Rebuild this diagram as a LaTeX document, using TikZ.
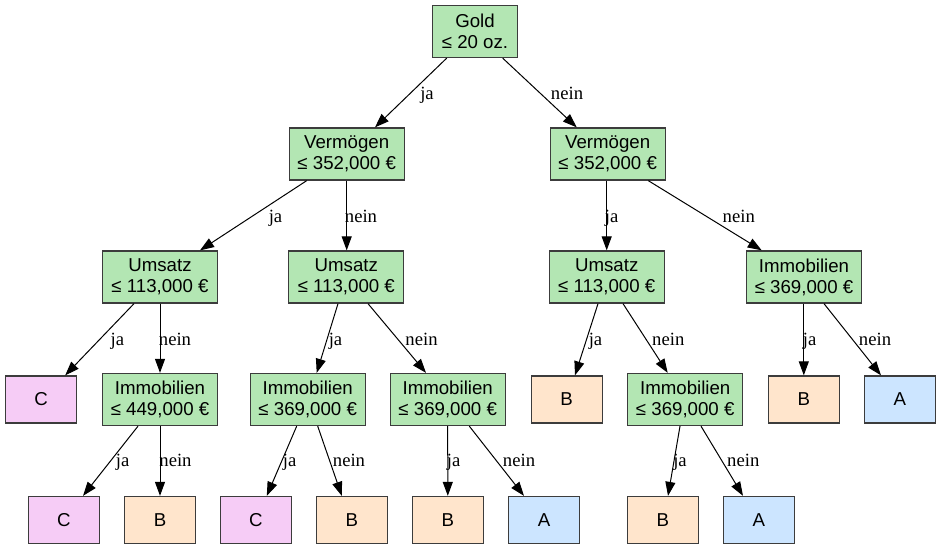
\documentclass[tikz,border=0pt]{standalone}
\usepackage{fontspec}
\setmainfont{Liberation Serif}
\newfontfamily\arialf{Liberation Sans}
\usetikzlibrary{arrows.meta}
\definecolor{nodegreen}{RGB}{179,230,179}
\definecolor{leafA}{RGB}{204,229,255}
\definecolor{leafB}{RGB}{255,229,204}
\definecolor{leafC}{RGB}{246,204,246}
\definecolor{bordergray}{RGB}{60,60,60}
\begin{document}
\begin{tikzpicture}[x=1pt,y=-1pt,
  splitbox/.style={draw=bordergray, line width=1.3pt, fill=nodegreen,
    minimum width=115pt, minimum height=52pt, inner sep=0pt, align=center,
    font=\arialf\fontsize{18.67}{21}\selectfont},
  goldbox/.style={splitbox, minimum width=85pt},
  leafbox/.style={draw=bordergray, line width=1.3pt, minimum width=71pt,
    minimum height=47pt, inner sep=0pt,
    font=\arialf\fontsize{18.67}{21}\selectfont},
  leafa/.style={leafbox, fill=leafA},
  leafb/.style={leafbox, fill=leafB},
  leafc/.style={leafbox, fill=leafC},
  conn/.style={-{Triangle[length=14pt,width=10pt]}, line width=1pt, black},
  lab/.style={anchor=base, inner sep=0pt, font=\fontsize{18.67}{21}\selectfont}
]
\useasboundingbox (0,0) rectangle (941,549);

% level 0
\node[goldbox] (gold) at (475,31.5) {Gold\\≤ 20 oz.};
% level 1
\node[splitbox] (vl) at (346.7,154) {Vermögen\\≤ 352,000 €};
\node[splitbox] (vr) at (607.7,154) {Vermögen\\≤ 352,000 €};
% level 2
\node[splitbox] (ul1) at (160,277) {Umsatz\\≤ 113,000 €};
\node[splitbox] (ul2) at (346.3,277) {Umsatz\\≤ 113,000 €};
\node[splitbox] (ur) at (606.7,277) {Umsatz\\≤ 113,000 €};
\node[splitbox] (ir) at (804,277) {Immobilien\\≤ 369,000 €};
% level 3
\node[leafc] (c3) at (41.2,399.5) {C};
\node[splitbox] (i449) at (160,399.5) {Immobilien\\≤ 449,000 €};
\node[splitbox] (i369a) at (307.7,399.5) {Immobilien\\≤ 369,000 €};
\node[splitbox] (i369b) at (447.7,399.5) {Immobilien\\≤ 369,000 €};
\node[leafb] (b3) at (566.7,399.5) {B};
\node[splitbox] (i369c) at (685.2,399.5) {Immobilien\\≤ 369,000 €};
\node[leafb] (b3r) at (803.8,399.5) {B};
\node[leafa] (a3) at (899.8,399.5) {A};
% level 4
\node[leafc] (c4a) at (63.8,520) {C};
\node[leafb] (b4a) at (160,520) {B};
\node[leafc] (c4b) at (255.8,520) {C};
\node[leafb] (b4b) at (351.8,520) {B};
\node[leafb] (b4c) at (447.8,520) {B};
\node[leafa] (a4a) at (544,520) {A};
\node[leafb] (b4d) at (662.8,520) {B};
\node[leafa] (a4b) at (758.8,520) {A};

% edges
\draw[conn] ([xshift=-28.3pt]gold.south) -- ([xshift=28.3pt]vl.north);
\draw[conn] ([xshift=27.7pt]gold.south) -- ([xshift=-31pt]vr.north);
\draw[conn] ([xshift=-40pt]vl.south) -- ([xshift=40pt]ul1.north);
\draw[conn] (vl.south) -- (ul2.north -| vl.south);
\draw[conn] (vr.south -| ur.north) -- (ur.north);
\draw[conn] ([xshift=40.6pt]vr.south) -- ([xshift=-42.3pt]ir.north);
\draw[conn] ([xshift=-26pt]ul1.south) -- ([xshift=24pt]c3.north);
\draw[conn] (ul1.south) -- (i449.north);
\draw[conn] ([xshift=-8.3pt]ul2.south) -- ([xshift=9pt]i369a.north);
\draw[conn] ([xshift=21.7pt]ul2.south) -- ([xshift=-21.7pt]i369b.north);
\draw[conn] ([xshift=-8.7pt]ur.south) -- ([xshift=8.3pt]b3.north);
\draw[conn] ([xshift=16.3pt]ur.south) -- ([xshift=-17.5pt]i369c.north);
\draw[conn] (ir.south -| b3r.north) -- (b3r.north);
\draw[conn] ([xshift=20pt]ir.south) -- ([xshift=-18.8pt]a3.north);
\draw[conn] ([xshift=-22pt]i449.south) -- ([xshift=19.2pt]c4a.north);
\draw[conn] (i449.south) -- (b4a.north);
\draw[conn] ([xshift=-11pt]i369a.south) -- ([xshift=11pt]c4b.north);
\draw[conn] ([xshift=10pt]i369a.south) -- ([xshift=-10pt]b4b.north);
\draw[conn] (i369b.south) -- (b4c.north);
\draw[conn] ([xshift=21.6pt]i369b.south) -- ([xshift=-20pt]a4a.north);
\draw[conn] ([xshift=-5.2pt]i369c.south) -- ([xshift=5.2pt]b4d.north);
\draw[conn] ([xshift=15.8pt]i369c.south) -- ([xshift=-15.8pt]a4b.north);

% edge labels
\node[lab] (l1) at (427,99) {ja};
\node[lab] (l2) at (567,99) {nein};
\node[lab] (l3) at (275.5,222.5) {ja};
\node[lab] (l4) at (361,222.5) {nein};
\node[lab] (l5) at (611.7,222) {ja};
\node[lab] (l6) at (738.8,222) {nein};
\node[lab] (l7) at (117.3,345) {ja};
\node[lab] (l8) at (175,345) {nein};
\node[lab] (l9) at (335.5,345) {ja};
\node[lab] (l10) at (421.5,345) {nein};
\node[lab] (l11) at (595.5,345) {ja};
\node[lab] (l12) at (668.3,345) {nein};
\node[lab] (l13) at (809.7,345) {ja};
\node[lab] (l14) at (875,345) {nein};
\node[lab] (l15) at (122.7,466.5) {ja};
\node[lab] (l16) at (175.5,466.5) {nein};
\node[lab] (l17) at (289.7,466.5) {ja};
\node[lab] (l18) at (349,466.5) {nein};
\node[lab] (l19) at (453.7,466.5) {ja};
\node[lab] (l20) at (519,466.5) {nein};
\node[lab] (l21) at (680,466.5) {ja};
\node[lab] (l22) at (743.3,466.5) {nein};
\end{tikzpicture}
\end{document}
